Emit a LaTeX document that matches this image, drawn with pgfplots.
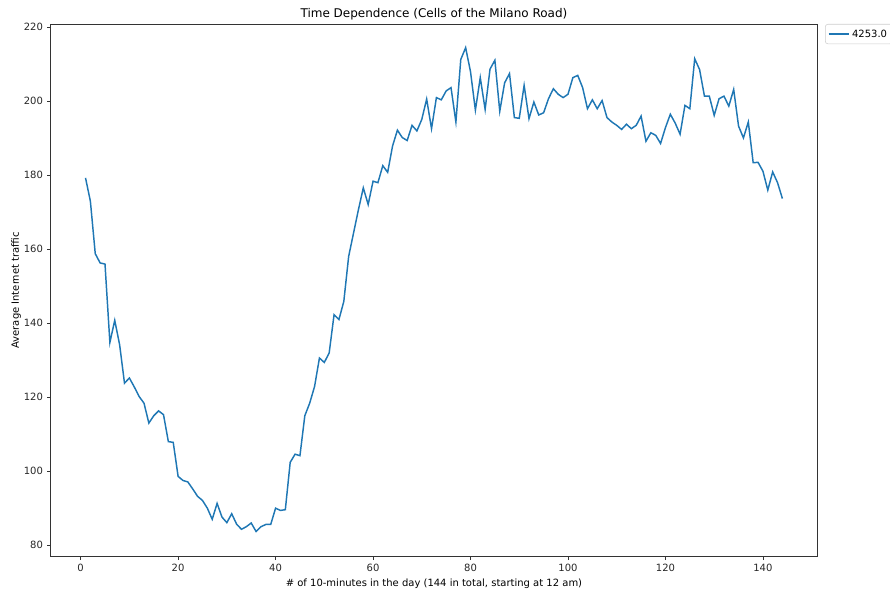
\documentclass[border=0pt]{standalone}
\usepackage{pgfplots}
\pgfplotsset{compat=1.18}
\usepackage{fontspec}
\setmainfont{DejaVu Sans}
\definecolor{mplblue}{HTML}{1F77B4}
\definecolor{spine}{HTML}{333333}
\begin{document}
\fontsize{7.5}{9}\selectfont
\begin{tikzpicture}
\useasboundingbox (-38.0pt,-26.5pt) rectangle (629.5pt,417.5pt);
\begin{axis}[
  at={(0,0)}, anchor=south west,
  scale only axis, width=574.95pt, height=399.5pt,
  xmin=-6.15, xmax=151.15, ymin=76.9, ymax=220.9,
  xtick={0,20,...,140}, ytick={80,100,...,220},
  tick pos=left, tick align=outside, major tick length=2.6pt,
  axis line style={spine, line width=0.6pt},
  every tick/.style={spine, line width=0.6pt},
  /pgf/number format/assume math mode=true,
  tick label style={font=\fontsize{7.5}{9}\selectfont, text=black!85},
  xticklabel style={yshift=-0.5pt},
  yticklabel style={xshift=-0.5pt},
  title={Time Dependence (Cells of the Milano Road)},
  title style={font=\fontsize{9}{11}\selectfont, at={(0.5,1)}, anchor=base, yshift=-1.5pt, inner sep=0pt},
  xlabel={\# of 10-minutes in the day (144 in total, starting at 12 am)},
  ylabel={Average Internet traffic},
  label style={font=\fontsize{7.5}{9}\selectfont},
  xlabel style={yshift=0pt},
  ylabel style={yshift=-3pt},
  legend style={at={(1,1)}, anchor=north west, xshift=5.8pt, draw=black!20, rounded corners=2pt,
    font=\fontsize{7.5}{9}\selectfont, inner sep=2pt, row sep=0pt},
  legend cell align=left,
  legend image code/.code={\draw[#1, line width=1.1pt] (0pt,0pt) -- (15pt,0pt);},
]
\addplot[mplblue, line width=1.1pt] coordinates {
(1,179.3)(2,173.0)(3,158.8)(4,156.3)(5,156.0)(6,134.8)(7,140.8)(8,134.2)(9,123.8)(10,125.2)
(11,122.8)(12,120.2)(13,118.4)(14,113.0)(15,115.0)(16,116.3)(17,115.3)(18,108.0)(19,107.8)(20,98.6)
(21,97.5)(22,97.1)(23,95.2)(24,93.2)(25,92.1)(26,90.0)(27,87.0)(28,91.3)(29,87.6)(30,86.1)
(31,88.5)(32,85.7)(33,84.3)(34,85.0)(35,86.0)(36,83.7)(37,85.0)(38,85.6)(39,85.6)(40,90.0)
(41,89.4)(42,89.6)(43,102.4)(44,104.6)(45,104.2)(46,115.0)(47,118.4)(48,122.9)(49,130.6)(50,129.4)
(51,132.0)(52,142.3)(53,141.0)(54,145.9)(55,158.1)(56,164.4)(57,170.7)(58,176.6)(59,172.1)(60,178.4)
(61,178.0)(62,182.6)(63,180.8)(64,187.9)(65,192.2)(66,190.2)(67,189.4)(68,193.5)(69,192.0)(70,195.1)
(71,200.6)(72,192.6)(73,201.0)(74,200.4)(75,202.8)(76,203.7)(77,194.4)(78,211.3)(79,214.5)(80,208.0)
(81,197.6)(82,206.4)(83,197.8)(84,208.7)(85,211.1)(86,197.3)(87,205.0)(88,207.5)(89,195.6)(90,195.4)
(91,204.3)(92,195.3)(93,199.8)(94,196.3)(95,196.9)(96,200.7)(97,203.4)(98,201.9)(99,201.0)(100,201.9)
(101,206.4)(102,207.0)(103,203.7)(104,198.0)(105,200.4)(106,198.0)(107,200.2)(108,195.6)(109,194.4)(110,193.5)
(111,192.4)(112,193.8)(113,192.6)(114,193.5)(115,196.0)(116,189.2)(117,191.5)(118,190.8)(119,188.6)(120,192.9)
(121,196.5)(122,194.1)(123,191.1)(124,198.9)(125,198.0)(126,211.5)(127,208.6)(128,201.4)(129,201.4)(130,196.2)
(131,200.7)(132,201.4)(133,198.7)(134,203.2)(135,193.3)(136,190.1)(137,194.4)(138,183.4)(139,183.5)(140,181.1)
(141,176.0)(142,180.9)(143,178.0)(144,173.7)
};
\addlegendentry{4253.0}
\end{axis}
\end{tikzpicture}
\end{document}
